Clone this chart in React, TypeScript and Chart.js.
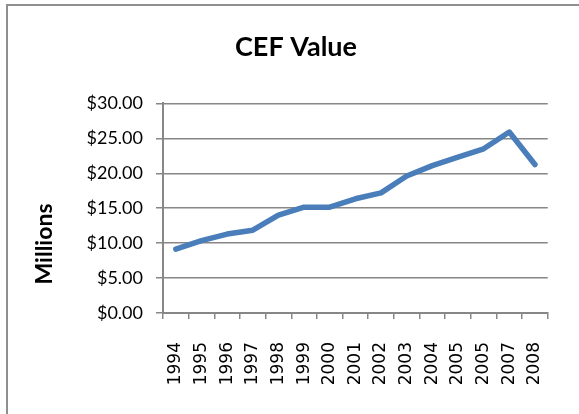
import React, { useEffect, useRef } from "react";
import { Chart, registerables } from "chart.js";

Chart.register(...registerables);

const categories = ["1994", "1995", "1996", "1997", "1998", "1999", "2000", "2001", "2002", "2003", "2004", "2005", "2005", "2007", "2008"];
const cefValues = [9.15, 10.35, 11.3, 11.85, 14.0, 15.15, 15.15, 16.35, 17.2, 19.6, 21.1, 22.3, 23.5, 25.9, 21.25];
const yTickValues = [0, 5, 10, 15, 20, 25, 30];
const chartTitle = "CEF Value";
const yAxisTitle = "Millions";

const axisTitlePlugin = {
  id: "axisTitlePlugin",
  afterDraw(chart: any) {
    const ctx = chart.ctx;
    ctx.save();
    ctx.translate(45, 244);
    ctx.rotate(-Math.PI / 2);
    ctx.font = "bold 23px Lato";
    ctx.fillStyle = "#000";
    ctx.textAlign = "center";
    ctx.textBaseline = "middle";
    ctx.fillText(yAxisTitle, 0, 0);
    ctx.restore();
  },
};

export default function App() {
  const ref = useRef<HTMLCanvasElement | null>(null);
  useEffect(() => {
    document.body.style.margin = "0";
    const chart = new Chart(ref.current!, {
      type: "line",
      data: {
        labels: categories,
        datasets: [
          {
            label: chartTitle,
            data: cefValues,
            borderColor: "#4A7EBB",
            backgroundColor: "#4A7EBB",
            borderWidth: 5.5,
            pointRadius: 0,
            tension: 0,
            borderJoinStyle: "round",
            borderCapStyle: "round",
          },
        ],
      },
      options: {
        responsive: false,
        animation: false,
        layout: { padding: { left: 33, right: 20, top: 0, bottom: 0 } },
        plugins: {
          legend: { display: false },
          tooltip: { enabled: false },
          title: {
            display: true,
            text: chartTitle,
            color: "#000",
            font: { family: "Lato", size: 27, weight: "bold" },
            padding: { top: 31, bottom: 40 },
          },
        },
        scales: {
          x: {
            type: "category",
            offset: true,
            grid: {
              offset: true,
              drawOnChartArea: false,
              drawTicks: true,
              tickLength: 6,
              color: "#878787",
              lineWidth: 1.5,
            },
            border: { display: true, color: "#878787", width: 2 },
            ticks: {
              autoSkip: false,
              minRotation: 90,
              maxRotation: 90,
              padding: 23,
              color: "#000",
              font: { family: "DejaVu Sans", size: 17 },
            },
            afterFit: (s: any) => {
              s.height = 101;
            },
          },
          y: {
            min: 0,
            max: 30,
            afterBuildTicks: (s: any) => {
              s.ticks = yTickValues.map((v) => ({ value: v }));
            },
            grid: {
              color: "#878787",
              lineWidth: 1.5,
              tickLength: 7,
            },
            border: { display: true, color: "#878787", width: 2 },
            ticks: {
              padding: 13,
              color: "#000",
              font: { family: "Lato", size: 18 },
              callback: (v: any) => "$" + Number(v).toFixed(2),
            },
            afterFit: (s: any) => {
              s.width = 130;
            },
          },
        },
      },
      plugins: [axisTitlePlugin],
    });
    return () => chart.destroy();
  }, []);

  return (
    <div style={{ position: "fixed", left: 0, top: 0, width: 579, height: 414, background: "#fff", overflow: "hidden" }}>
      <div
        style={{
          position: "absolute",
          left: 6,
          top: 4,
          width: 600,
          height: 408,
          borderLeft: "2px solid #8f8f8f",
          borderTop: "2px solid #8f8f8f",
          borderBottom: "1px solid #ececec",
        }}
      />
      <canvas ref={ref} width={579} height={414} style={{ position: "absolute", left: 0, top: 0 }} />
    </div>
  );
}
